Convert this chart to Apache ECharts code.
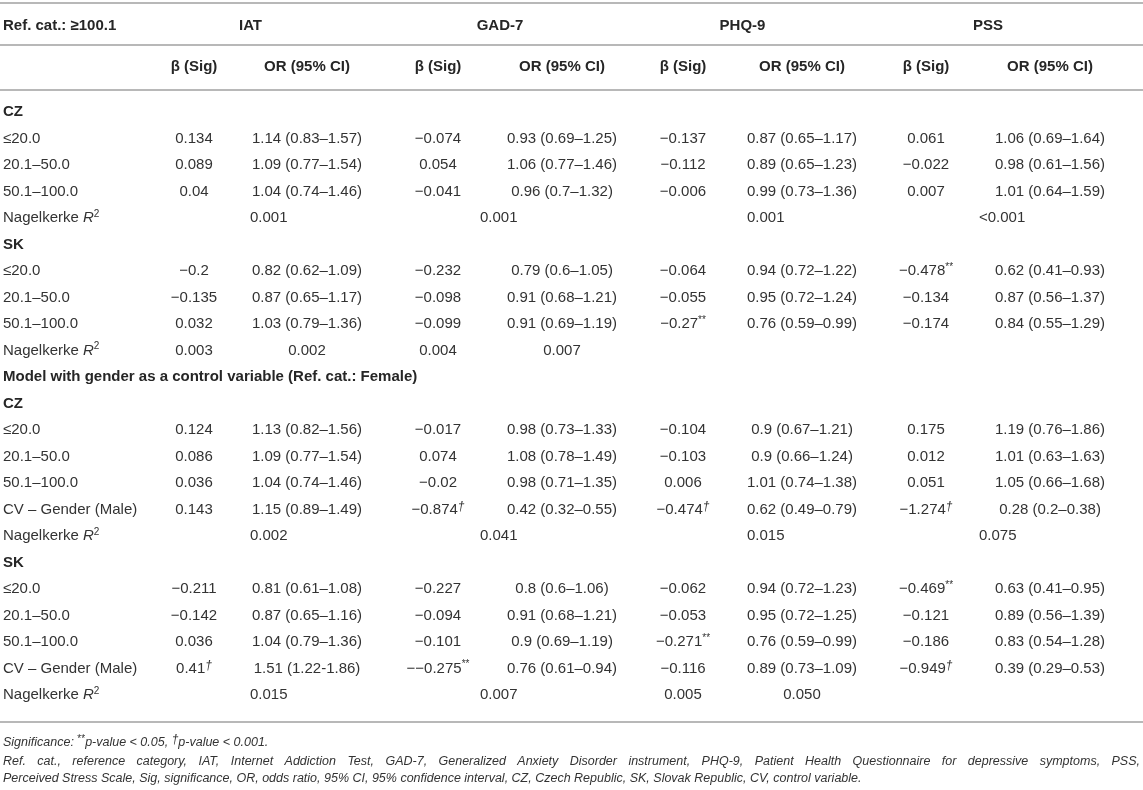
<!DOCTYPE html>
<html lang="en">
<head>
  <meta charset="UTF-8">
  <title>Ref. cat. ≥100.1 – IAT, GAD-7, PHQ-9, PSS</title>
  <style>
    body {
      margin: 0;
      background: #fff;
    }
    #table {
      width: 1143px;
      height: 790px;
    }
  </style>
  <script src="https://cdn.jsdelivr.net/npm/echarts@6/dist/echarts.min.js"></script>
</head>
<body>
<div id="table"></div>

<script>
  // ---- table content ----
  var cornerLabel = 'Ref. cat.: ≥100.1';
  var groups = ['IAT', 'GAD-7', 'PHQ-9', 'PSS'];
  var subHeads = ['β (Sig)', 'OR (95% CI)'];

  var rowLabels = [
    'CZ', '≤20.0', '20.1–50.0', '50.1–100.0', 'Nagelkerke {r|R}{sq|2}',
    'SK', '≤20.0', '20.1–50.0', '50.1–100.0', 'Nagelkerke {r|R}{sq|2}',
    'Model with gender as a control variable (Ref. cat.: Female)',
    'CZ', '≤20.0', '20.1–50.0', '50.1–100.0', 'CV – Gender (Male)', 'Nagelkerke {r|R}{sq|2}',
    'SK', '≤20.0', '20.1–50.0', '50.1–100.0', 'CV – Gender (Male)', 'Nagelkerke {r|R}{sq|2}'
  ];
  var sectionRows = [0, 5, 10, 11, 17];

  var rowValues = [
    [],
    ['0.134', '1.14 (0.83–1.57)', '−0.074', '0.93 (0.69–1.25)', '−0.137', '0.87 (0.65–1.17)', '0.061', '1.06 (0.69–1.64)'],
    ['0.089', '1.09 (0.77–1.54)', '0.054', '1.06 (0.77–1.46)', '−0.112', '0.89 (0.65–1.23)', '−0.022', '0.98 (0.61–1.56)'],
    ['0.04', '1.04 (0.74–1.46)', '−0.041', '0.96 (0.7–1.32)', '−0.006', '0.99 (0.73–1.36)', '0.007', '1.01 (0.64–1.59)'],
    ['', '0.001', '', '0.001', '', '0.001', '', '<0.001'],
    [],
    ['−0.2', '0.82 (0.62–1.09)', '−0.232', '0.79 (0.6–1.05)', '−0.064', '0.94 (0.72–1.22)', '−0.478**', '0.62 (0.41–0.93)'],
    ['−0.135', '0.87 (0.65–1.17)', '−0.098', '0.91 (0.68–1.21)', '−0.055', '0.95 (0.72–1.24)', '−0.134', '0.87 (0.56–1.37)'],
    ['0.032', '1.03 (0.79–1.36)', '−0.099', '0.91 (0.69–1.19)', '−0.27**', '0.76 (0.59–0.99)', '−0.174', '0.84 (0.55–1.29)'],
    ['0.003', '0.002', '0.004', '0.007', '', '', '', ''],
    [],
    [],
    ['0.124', '1.13 (0.82–1.56)', '−0.017', '0.98 (0.73–1.33)', '−0.104', '0.9 (0.67–1.21)', '0.175', '1.19 (0.76–1.86)'],
    ['0.086', '1.09 (0.77–1.54)', '0.074', '1.08 (0.78–1.49)', '−0.103', '0.9 (0.66–1.24)', '0.012', '1.01 (0.63–1.63)'],
    ['0.036', '1.04 (0.74–1.46)', '−0.02', '0.98 (0.71–1.35)', '0.006', '1.01 (0.74–1.38)', '0.051', '1.05 (0.66–1.68)'],
    ['0.143', '1.15 (0.89–1.49)', '−0.874†', '0.42 (0.32–0.55)', '−0.474†', '0.62 (0.49–0.79)', '−1.274†', '0.28 (0.2–0.38)'],
    ['', '0.002', '', '0.041', '', '0.015', '', '0.075'],
    [],
    ['−0.211', '0.81 (0.61–1.08)', '−0.227', '0.8 (0.6–1.06)', '−0.062', '0.94 (0.72–1.23)', '−0.469**', '0.63 (0.41–0.95)'],
    ['−0.142', '0.87 (0.65–1.16)', '−0.094', '0.91 (0.68–1.21)', '−0.053', '0.95 (0.72–1.25)', '−0.121', '0.89 (0.56–1.39)'],
    ['0.036', '1.04 (0.79–1.36)', '−0.101', '0.9 (0.69–1.19)', '−0.271**', '0.76 (0.59–0.99)', '−0.186', '0.83 (0.54–1.28)'],
    ['0.41†', '1.51 (1.22-1.86)', '−−0.275**', '0.76 (0.61–0.94)', '−0.116', '0.89 (0.73–1.09)', '−0.949†', '0.39 (0.29–0.53)'],
    ['', '0.015', '', '0.007', '0.005', '0.050', '', '']
  ];

  // cells that sit in a merged (left aligned) block: [row, col]
  var spanCells = [[4, 1], [4, 3], [4, 5], [4, 7], [16, 1], [16, 3], [16, 5], [16, 7], [22, 1], [22, 3]];

  var notes = [
    'Significance: {st|**}p-value < 0.05, {dg|†}p-value < 0.001.',
    'Ref. cat., reference category, IAT, Internet Addiction Test, GAD-7, Generalized Anxiety Disorder instrument, PHQ-9, Patient Health Questionnaire for depressive symptoms, PSS,',
    'Perceived Stress Scale, Sig, significance, OR, odds ratio, 95% CI, 95% confidence interval, CZ, Czech Republic, SK, Slovak Republic, CV, control variable.'
  ];

  // ---- layout ----
  var W = 1143, H = 790;
  var colX = [194, 307, 438, 562, 683, 802, 926, 1050];
  var spanLeft = [0, 250, 0, 480, 0, 747, 0, 979];
  var labelX = 3;
  var headY = [26, 67];
  var bodyY0 = 112, rowStep = 26.5;
  var ruleY = [3, 45, 90, 722];
  var noteY = [743, 762, 779];
  var FONT = '"Liberation Sans", Arial, sans-serif';
  var NOTE_SIZE = 12.5;

  var richStyles = {
    st: { fontSize: 10, fontFamily: FONT, fill: '#333', verticalAlign: 'top', lineHeight: 10 },
    dg: { fontSize: 12, fontFamily: FONT, fontStyle: 'italic', fill: '#333', verticalAlign: 'top', lineHeight: 11 },
    r: { fontSize: 15, fontFamily: FONT, fontStyle: 'italic', fill: '#333' },
    sq: { fontSize: 10, fontFamily: FONT, fill: '#333', verticalAlign: 'top', lineHeight: 10 }
  };

  function markup(s) {
    return s.replace(/\*\*/g, '{st|**}').replace(/†/g, '{dg|†}');
  }

  var cells = [];
  function addCell(x, y, text, opt) {
    opt = opt || {};
    cells.push({
      x: x, y: y, text: text,
      align: opt.align || 'center',
      weight: opt.weight || 'normal',
      italic: !!opt.italic,
      size: opt.size || 15,
      color: opt.color || '#333'
    });
  }

  // header
  addCell(labelX, headY[0], cornerLabel, { align: 'left', weight: 'bold', color: '#262626' });
  groups.forEach(function (g, i) {
    addCell((colX[2 * i] + colX[2 * i + 1]) / 2, headY[0], g, { weight: 'bold', color: '#262626' });
    subHeads.forEach(function (s, j) {
      addCell(colX[2 * i + j], headY[1], s, { weight: 'bold', color: '#262626' });
    });
  });

  // body
  rowLabels.forEach(function (lab, r) {
    var y = bodyY0 + r * rowStep;
    var bold = sectionRows.indexOf(r) >= 0;
    addCell(labelX, y, lab, { align: 'left', weight: bold ? 'bold' : 'normal', color: bold ? '#262626' : '#333' });
    rowValues[r].forEach(function (v, c) {
      if (!v) return;
      var span = spanCells.some(function (p) { return p[0] === r && p[1] === c; });
      addCell(span ? spanLeft[c] : colX[c], y, markup(v), { align: span ? 'left' : 'center' });
    });
  });

  // notes (second line justified across the full width)
  var noteFont = 'italic ' + NOTE_SIZE + 'px ' + FONT;
  addCell(labelX, noteY[0], notes[0], { align: 'left', italic: true, size: NOTE_SIZE });
  (function () {
    var ctx = document.createElement('canvas').getContext('2d');
    ctx.font = noteFont;
    var words = notes[1].split(' ');
    var widths = words.map(function (w) { return ctx.measureText(w).width; });
    var total = widths.reduce(function (a, b) { return a + b; }, 0);
    var gap = (W - 3 - labelX - total) / (words.length - 1);
    var x = labelX;
    words.forEach(function (w, i) {
      addCell(x, noteY[1], w, { align: 'left', italic: true, size: NOTE_SIZE });
      x += widths[i] + gap;
    });
  })();
  addCell(labelX, noteY[2], notes[2], { align: 'left', italic: true, size: NOTE_SIZE });

  // ---- chart ----
  var chartDom = document.getElementById('table');
  var myChart = echarts.init(chartDom);

  var option = {
    animation: false,
    backgroundColor: '#fff',
    grid: { left: 0, right: 0, top: 0, bottom: 0 },
    xAxis: { type: 'value', min: 0, max: W, show: false },
    yAxis: { type: 'value', min: 0, max: H, inverse: true, show: false },
    series: [
      {
        type: 'custom',
        name: 'rules',
        silent: true,
        data: ruleY.map(function (y) { return [0, y]; }),
        renderItem: function (params, api) {
          var y = api.value(1);
          var p1 = api.coord([0, y]);
          var p2 = api.coord([W, y]);
          return {
            type: 'line',
            shape: { x1: p1[0], y1: p1[1], x2: p2[0], y2: p2[1] },
            style: { stroke: '#b8b8b8', lineWidth: 2 }
          };
        }
      },
      {
        type: 'custom',
        name: 'cells',
        silent: true,
        data: cells.map(function (c) { return [c.x, c.y]; }),
        renderItem: function (params, api) {
          var c = cells[params.dataIndex];
          var p = api.coord([api.value(0), api.value(1)]);
          return {
            type: 'text',
            x: p[0],
            y: p[1],
            style: {
              text: c.text,
              rich: richStyles,
              fontFamily: FONT,
              fontSize: c.size,
              fontWeight: c.weight,
              fontStyle: c.italic ? 'italic' : 'normal',
              fill: c.color,
              align: c.align,
              verticalAlign: 'middle',
              lineHeight: 18
            }
          };
        }
      }
    ]
  };

  myChart.setOption(option);
</script>
</body>
</html>
